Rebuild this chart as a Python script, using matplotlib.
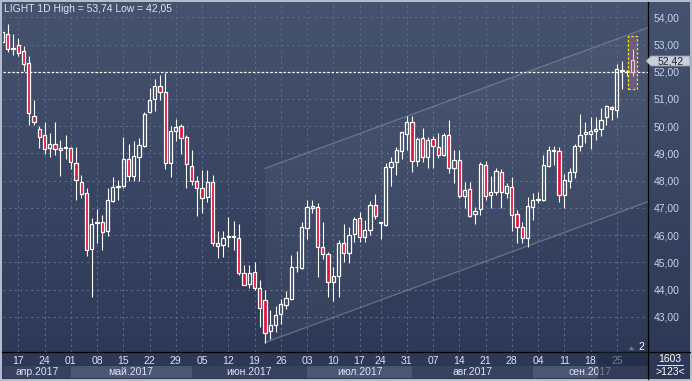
import numpy as np
import matplotlib.pyplot as plt
from matplotlib.patches import Rectangle, Polygon
from matplotlib.lines import Line2D
from matplotlib.colors import LinearSegmentedColormap

plt.rcParams["font.family"] = ["Liberation Sans", "DejaVu Sans"]

# daily candles, 11 apr .. 28 sep 2017
opens = [53.10, 53.37, 52.82, 52.97, 52.76, 52.33, 50.38, 49.89, 49.68, 49.19,
         49.35, 49.13, 49.20, 49.19, 48.65, 47.96, 47.53, 45.47, 46.43, 46.47,
         46.14, 47.26, 47.76, 47.81, 48.80, 48.18, 48.88, 49.28, 50.51, 51.00,
         51.49, 51.26, 48.64, 49.82, 50.01, 49.60, 48.55, 47.99, 47.73, 47.38,
         47.94, 45.71, 45.63, 45.92, 45.93, 45.91, 44.62, 44.21, 44.66, 44.06,
         43.62, 42.46, 42.70, 43.09, 43.42, 43.66, 44.82, 44.79, 46.26, 46.98,
         47.04, 45.56, 45.29, 44.27, 44.49, 45.71, 45.34, 46.03, 46.61, 45.93,
         46.19, 47.09, 46.46, 46.37, 48.51, 48.70, 49.10, 49.71, 50.15, 48.73,
         49.56, 48.86, 49.52, 49.25, 48.94, 49.68, 48.48, 48.76, 47.44, 47.68,
         46.76, 46.94, 48.58, 47.49, 47.57, 48.33, 47.53, 47.75, 46.76, 46.28,
         45.91, 47.02, 47.28, 47.30, 48.55, 49.09, 49.09, 47.49, 47.99, 48.33,
         49.29, 49.71, 49.70, 49.82, 49.88, 50.34, 50.71, 50.58, 52.03, 52.02,
         52.00]
highs = [53.60, 53.74, 53.37, 53.25, 52.94, 52.57, 50.97, 49.99, 50.17, 49.75,
         50.17, 49.50, 49.68, 49.25, 49.23, 48.21, 47.72, 46.61, 46.94, 46.73,
         47.72, 48.14, 48.02, 49.60, 49.35, 49.46, 49.56, 50.51, 51.42, 51.75,
         51.87, 51.96, 49.99, 50.26, 50.09, 49.68, 49.13, 48.17, 48.39, 48.39,
         48.21, 46.14, 46.14, 46.67, 46.51, 46.42, 44.89, 44.89, 45.01, 44.36,
         43.99, 43.25, 43.41, 43.66, 43.96, 45.25, 45.41, 46.48, 47.28, 47.28,
         47.18, 46.48, 45.38, 44.82, 45.83, 46.42, 46.30, 46.67, 46.85, 46.55,
         47.26, 47.51, 46.49, 48.66, 48.88, 49.25, 49.80, 50.38, 50.38, 49.62,
         49.93, 49.62, 49.65, 49.75, 49.75, 50.21, 49.13, 49.13, 47.96, 47.96,
         47.04, 48.70, 48.72, 48.17, 48.45, 48.42, 47.90, 48.12, 46.92, 46.48,
         47.41, 47.55, 47.59, 48.94, 49.28, 49.28, 49.23, 48.24, 48.45, 49.35,
         50.46, 50.14, 50.32, 50.34, 50.67, 50.79, 50.75, 52.27, 52.41, 52.05,
         52.83]
lows = [53.00, 52.72, 52.63, 52.57, 52.04, 50.05, 50.05, 49.20, 48.98, 48.86,
        48.94, 48.17, 48.80, 48.42, 47.28, 47.35, 45.22, 43.72, 45.69, 45.44,
        45.96, 47.22, 47.28, 47.72, 48.00, 48.00, 48.00, 49.23, 50.48, 50.54,
        50.97, 48.42, 48.12, 49.47, 48.98, 47.72, 47.84, 46.69, 46.82, 47.22,
        45.59, 45.17, 45.19, 45.56, 45.44, 44.52, 44.15, 44.06, 43.99, 42.61,
        42.05, 42.18, 42.45, 42.73, 43.29, 43.62, 44.64, 44.76, 45.87, 46.80,
        44.45, 45.13, 43.72, 43.59, 43.72, 45.01, 44.97, 45.75, 45.75, 45.75,
        45.99, 46.58, 45.87, 46.32, 47.80, 48.21, 48.79, 49.13, 48.33, 48.54,
        48.70, 48.45, 48.45, 48.82, 48.91, 48.29, 47.92, 47.35, 46.98, 46.65,
        46.42, 46.73, 47.30, 46.98, 47.47, 47.01, 47.35, 46.14, 45.72, 45.71,
        45.56, 46.55, 47.18, 47.26, 48.51, 48.58, 47.22, 46.98, 47.72, 48.08,
        49.10, 49.38, 49.15, 49.50, 49.65, 50.05, 50.24, 50.34, 51.37, 51.85,
        51.84]
closes = [53.45, 52.82, 52.88, 52.70, 52.29, 50.48, 50.17, 49.60, 49.15, 49.35,
          49.15, 49.21, 49.23, 48.70, 48.02, 47.51, 45.44, 46.42, 46.47, 46.11,
          47.28, 47.75, 47.80, 48.80, 48.18, 48.91, 49.30, 50.46, 50.97, 51.49,
          51.26, 48.64, 49.83, 49.97, 49.56, 48.60, 47.99, 47.72, 47.36, 47.95,
          45.71, 45.60, 45.91, 45.96, 45.95, 44.62, 44.17, 44.62, 44.06, 43.32,
          42.42, 42.71, 43.08, 43.45, 43.67, 44.82, 44.84, 46.29, 47.04, 47.05,
          45.56, 45.29, 44.27, 44.48, 45.69, 45.34, 46.00, 46.58, 45.93, 46.17,
          47.09, 46.71, 46.49, 48.49, 48.69, 49.13, 49.77, 50.15, 48.73, 49.52,
          48.88, 49.50, 49.28, 48.94, 49.68, 48.45, 48.76, 47.44, 47.65, 46.71,
          46.88, 48.61, 47.44, 47.57, 48.35, 47.57, 47.80, 46.73, 46.28, 45.91,
          47.06, 47.28, 47.31, 48.58, 49.13, 49.13, 47.49, 48.02, 48.32, 49.28,
          49.67, 49.79, 49.83, 49.90, 50.24, 50.73, 50.63, 52.11, 52.07, 52.03,
          52.42]

day_ticks = [3, 8, 13, 18, 23, 28, 33, 38, 43, 48, 53, 58, 63, 68, 72, 77,
             82, 87, 92, 97, 102, 107, 112, 117]
day_labels = ["17", "24", "01", "08", "15", "22", "29", "05", "12", "19", "26",
              "03", "10", "17", "24", "31", "07", "14", "21", "28", "04", "11",
              "18", "25"]
month_starts = [0, 13, 36, 58, 78, 101]
month_names = ["апр.2017", "май.2017", "июн.2017", "июл.2017", "авг.2017", "сен.2017"]

price_ticks = list(range(43, 55))
level = 51.98
last_price = 52.42
channel_x = [50, 126]
channel_top = [48.45, 53.84]
channel_bot = [42.05, 47.44]

W, H = 692, 381
X0, DX = 2.5, 5.25          # pixel of bar 0, pixels per bar
P0, DP = 17.3, 27.22        # pixel of 54.00, pixels per 1.00


def fx(px):
    return px / W


def fy(py):
    return 1 - py / H


def bar_at(px):
    return (px - X0) / DX


def price_at(py):
    return 54 - (py - P0) / DP


fig = plt.figure(figsize=(W / 100, H / 100), dpi=100, facecolor="#b4bccb")

grad = LinearSegmentedColormap.from_list("bg", ["#46536f", "#2b3755"])
bg = fig.add_axes([fx(2), fy(379), fx(690) - fx(2), fy(2) - fy(379)])
bg.imshow(np.linspace(0, 1, 256).reshape(-1, 1), cmap=grad, aspect="auto",
          extent=[0, 1, 0, 1], interpolation="bilinear")
bg.set_axis_off()

ax = fig.add_axes([fx(3), fy(352), fx(648) - fx(3), fy(2) - fy(352)])
ax.patch.set_visible(False)
xl = (bar_at(3), bar_at(648))
yl = (price_at(352), price_at(2))
ax.set_xlim(xl)
ax.set_ylim(yl)
for s in ax.spines.values():
    s.set_visible(False)

# grid
for p in price_ticks:
    ax.axhline(p, color="#5d6a88", lw=0.8, dashes=(2, 3), zorder=1)
for d in day_ticks:
    ax.axvline(d, color="#5d6a88", lw=0.8, dashes=(2, 3), zorder=1)

# price channel
poly = Polygon([(channel_x[0], channel_bot[0]), (channel_x[0], channel_top[0]),
                (channel_x[1], channel_top[1]), (channel_x[1], channel_bot[1])],
               closed=True, facecolor="white", alpha=0.04, edgecolor="none", zorder=1)
ax.add_patch(poly)
ax.plot(channel_x, channel_top, color="#8692ac", lw=1, alpha=0.55, zorder=2)
ax.plot(channel_x, channel_bot, color="#8692ac", lw=1, alpha=0.55, zorder=2)

# level line
ax.axhline(level, color="white", lw=0.9, dashes=(2, 1.5), zorder=2)

# selected bar box
n = len(opens)
ax.add_patch(Rectangle((n - 1 - 0.95, 51.35), 1.9, 1.96, facecolor="#8a6486",
                       alpha=0.55, edgecolor="none", zorder=2))
ax.add_patch(Rectangle((n - 1 - 0.95, 51.35), 1.9, 1.96, facecolor="none",
                       edgecolor="#f0e400", lw=0.9, ls=(0, (2, 1.5)), zorder=5))

# candles
idx = np.arange(n)
o = np.array(opens)
c = np.array(closes)
hi = np.array(highs)
lo = np.array(lows)
top = np.maximum(o, c)
bot = np.minimum(o, c)
edge = ["white"] * (n - 1) + ["#f6c6d6"]
ax.vlines(idx, top, hi, colors=edge, lw=0.8, zorder=3)
ax.vlines(idx, lo, bot, colors=edge, lw=0.8, zorder=3)
face = ["#e3143c" if cc < oo else "none" for oo, cc in zip(o, c)]
ax.bar(idx, np.maximum(top - bot, 0.02), bottom=bot, width=0.58, color=face,
       edgecolor=edge, lw=0.9, zorder=4)

ax.set_xticks([])
ax.yaxis.tick_right()
ax.set_yticks(price_ticks)
ax.set_yticklabels([f"{p},00" for p in price_ticks])
ax.tick_params(axis="y", length=0, pad=4, labelsize=7.5, labelcolor="#c6d3ee")

# price tag
tag = Polygon([(fx(646), fy(61)), (fx(651), fy(56)), (fx(690), fy(56)),
               (fx(690), fy(66)), (fx(651), fy(66))], closed=True,
              transform=fig.transFigure, facecolor="#c9ced8", edgecolor="#8f98aa",
              lw=0.6, zorder=6)
fig.patches.append(tag)
fig.text(fx(671), fy(61), f"{last_price:.2f}".replace(".", ","), ha="center",
         va="center", fontsize=7.5, color="#1b2233", zorder=7)

# title
fig.text(fx(4), fy(8.5), "LIGHT 1D High = 53,74 Low = 42,05", ha="left",
         va="center", fontsize=7.5, color="#dbe3f2")

# date axis
bx = fig.add_axes([fx(3), fy(379), fx(648) - fx(3), fy(352) - fy(379)])
bx.patch.set_visible(False)
bx.set_xlim(xl)
bx.set_ylim(0, 1)
bx.set_axis_off()
edges = month_starts[1:] + [xl[1]]
for k, (a, b) in enumerate(zip(month_starts, edges)):
    a = max(a, xl[0])
    col = "#4a5672" if k % 2 else "#36425e"
    bx.add_patch(Rectangle((a, 0.05), b - a, 0.43, facecolor=col, edgecolor="none"))
    bx.text((a + b) / 2, 0.27, month_names[k], ha="center", va="center",
            fontsize=7.5, color="#dbe3f2")
for d, lab in zip(day_ticks, day_labels):
    bx.text(d, 0.68, lab, ha="center", va="center", fontsize=7.5, color="#dbe3f2")

# scroll shade over the last week
fig.patches.append(Rectangle((fx(597.5), fy(379)), fx(648) - fx(597.5),
                             fy(352) - fy(379), transform=fig.transFigure,
                             facecolor="#1f2842", alpha=0.55, edgecolor="none",
                             zorder=5))

# separators
fig.add_artist(Line2D([fx(648), fx(648)], [fy(379), fy(2)], color="black", lw=0.9))
fig.add_artist(Line2D([fx(2), fx(690)], [fy(352), fy(352)], color="black", lw=0.9))

# corner
fig.text(fx(641), fy(347.5), "2", ha="center", va="center", fontsize=7.5,
         color="white", zorder=7)
fig.patches.append(Polygon([(fx(628.5), fy(350)), (fx(634.5), fy(350)),
                            (fx(631.5), fy(346.5))], closed=True,
                           transform=fig.transFigure, facecolor="#6c7890",
                           edgecolor="none", zorder=6))
fig.text(fx(670), fy(359), "1603", ha="center", va="center", fontsize=7.5,
         color="white")
fig.add_artist(Line2D([fx(657), fx(683)], [fy(364.5), fy(364.5)], color="white",
                      lw=0.6))
fig.text(fx(670), fy(372), ">123<", ha="center", va="center", fontsize=7.5,
         color="white")

fig.savefig("out.png", dpi=100, facecolor=fig.get_facecolor())
